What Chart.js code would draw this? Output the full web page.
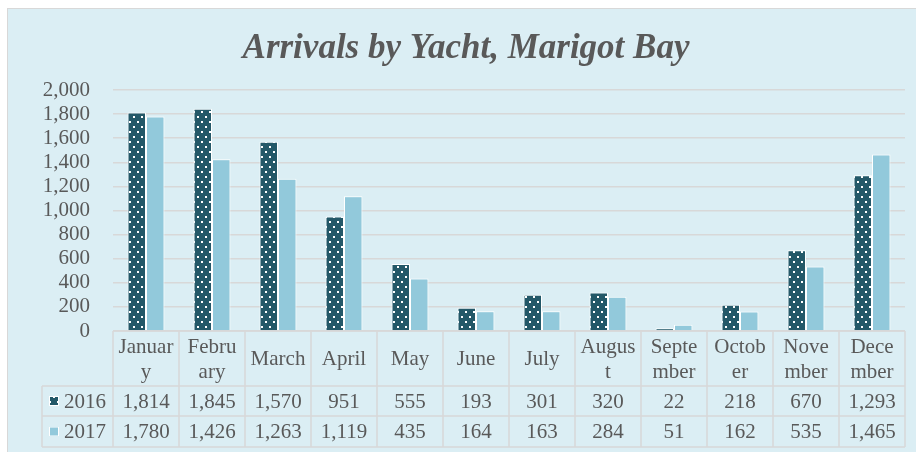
<!DOCTYPE html>
<html>
<head>
<meta charset="utf-8">
<script src="https://cdn.jsdelivr.net/npm/chart.js@4.4.1/dist/chart.umd.min.js"></script>
<style>
  html, body { margin: 0; padding: 0; background: #ffffff; }
  #wrap { width: 916px; height: 452px; }
</style>
</head>
<body>
<div id="wrap"><canvas id="yachtChart" width="916" height="452"></canvas></div>
<script>
const months = ["January", "February", "March", "April", "May", "June",
  "July", "August", "September", "October", "November", "December"];
// how the month names wrap in the table header
const monthLines = [["Januar", "y"], ["Febru", "ary"], ["March"], ["April"], ["May"], ["June"],
  ["July"], ["Augus", "t"], ["Septe", "mber"], ["Octob", "er"], ["Nove", "mber"], ["Dece", "mber"]];
const arrivals2016 = [1814, 1845, 1570, 951, 555, 193, 301, 320, 22, 218, 670, 1293];
const arrivals2017 = [1780, 1426, 1263, 1119, 435, 164, 163, 284, 51, 162, 535, 1465];
const seriesNames = ["2016", "2017"];
const yMax = 2000;
const yStep = 200;

const DARK = "#235868";
const LIGHT = "#92C9DB";
const GRID = "#D8D8D8";
const TEXT = "#595959";
const SERIF = '"Liberation Serif", "Times New Roman", serif';

function dotPattern() {
  const c = document.createElement("canvas");
  c.width = 8; c.height = 10;
  const g = c.getContext("2d");
  g.fillStyle = DARK;
  g.fillRect(0, 0, 8, 10);
  g.fillStyle = "#ffffff";
  g.fillRect(1, 1, 2, 2);
  g.fillRect(5, 6, 2, 2);
  return g.createPattern(c, "repeat");
}

const fmt = v => v.toLocaleString("en-US");

// frame + title behind the chart
const backdrop = {
  id: "backdrop",
  beforeDraw(chart) {
    const ctx = chart.ctx;
    ctx.save();
    ctx.fillStyle = "#DBEEF4";
    ctx.fillRect(8, 9, chart.width, chart.height);
    ctx.strokeStyle = GRID;
    ctx.lineWidth = 1;
    ctx.strokeRect(7.5, 8.5, chart.width, chart.height);
    ctx.fillStyle = TEXT;
    ctx.font = "italic bold 35px " + SERIF;
    ctx.textAlign = "center";
    ctx.textBaseline = "alphabetic";
    ctx.fillText("Arrivals by Yacht, Marigot Bay", 466, 58);
    ctx.restore();
  }
};

// Excel-like data table under the plot
const dataTable = {
  id: "dataTable",
  afterDraw(chart) {
    const ctx = chart.ctx;
    const x = chart.scales.x;
    const area = chart.chartArea;
    const colW = (area.right - area.left) / months.length;
    const top = area.bottom, headBottom = top + 55, row1 = headBottom + 30, row2 = row1 + 31;
    const legendLeft = 42;
    ctx.save();
    ctx.strokeStyle = GRID;
    ctx.lineWidth = 1.5;
    ctx.beginPath();
    ctx.moveTo(area.left, top); ctx.lineTo(area.right, top);
    [headBottom, row1, row2].forEach(yy => { ctx.moveTo(legendLeft, yy); ctx.lineTo(area.right, yy); });
    ctx.moveTo(legendLeft, headBottom); ctx.lineTo(legendLeft, row2);
    for (let i = 0; i <= months.length; i++) {
      const xx = area.left + i * colW;
      ctx.moveTo(xx, top); ctx.lineTo(xx, row2);
    }
    ctx.stroke();

    ctx.fillStyle = TEXT;
    ctx.font = "21px " + SERIF;
    ctx.textAlign = "center";
    ctx.textBaseline = "middle";
    months.forEach((m, i) => {
      const cx = x.getPixelForValue(i);
      const lines = monthLines[i];
      const mid = (top + headBottom) / 2 + 1;
      if (lines.length === 1) {
        ctx.fillText(lines[0], cx, mid);
      } else {
        ctx.fillText(lines[0], cx, mid - 12);
        ctx.fillText(lines[1], cx, mid + 13);
      }
      ctx.fillText(fmt(arrivals2016[i]), cx, (headBottom + row1) / 2 + 1);
      ctx.fillText(fmt(arrivals2017[i]), cx, (row1 + row2) / 2 + 1);
    });

    // legend keys
    const keys = [chart.data.datasets[0].backgroundColor, LIGHT];
    [[headBottom, row1], [row1, row2]].forEach(([a, b], k) => {
      const my = (a + b) / 2;
      ctx.fillStyle = keys[k];
      ctx.fillRect(49, my - 5, 10, 10);
      ctx.strokeStyle = "#ffffff";
      ctx.lineWidth = 1;
      ctx.strokeRect(49.5, my - 4.5, 9, 9);
      ctx.fillStyle = TEXT;
      ctx.textAlign = "left";
      ctx.fillText(seriesNames[k], 64, my + 1);
    });
    ctx.restore();
  }
};

const ctx = document.getElementById("yachtChart").getContext("2d");
new Chart(ctx, {
  type: "bar",
  data: {
    labels: months,
    datasets: [{
      label: seriesNames[0],
      data: arrivals2016,
      backgroundColor: dotPattern(),
      borderColor: "#ffffff",
      borderWidth: 1,
      borderSkipped: "bottom"
    }, {
      label: seriesNames[1],
      data: arrivals2017,
      backgroundColor: LIGHT,
      borderColor: "#ffffff",
      borderWidth: 1,
      borderSkipped: "bottom"
    }]
  },
  options: {
    responsive: false,
    animation: false,
    layout: { padding: { top: 90, bottom: 121, left: 0, right: 11 } },
    datasets: { bar: { categoryPercentage: 0.56, barPercentage: 1.0 } },
    plugins: { legend: { display: false }, tooltip: { enabled: false }, title: { display: false } },
    scales: {
      x: { display: false },
      y: {
        min: 0,
        max: yMax,
        afterFit(scale) { scale.width = 113; },
        ticks: {
          stepSize: yStep,
          autoSkip: false,
          padding: 23,
          color: TEXT,
          font: { family: SERIF, size: 21 },
          callback: v => fmt(v)
        },
        grid: { color: GRID, lineWidth: 1.5, drawTicks: false },
        border: { display: false }
      }
    }
  },
  plugins: [backdrop, dataTable]
});
</script>
</body>
</html>
